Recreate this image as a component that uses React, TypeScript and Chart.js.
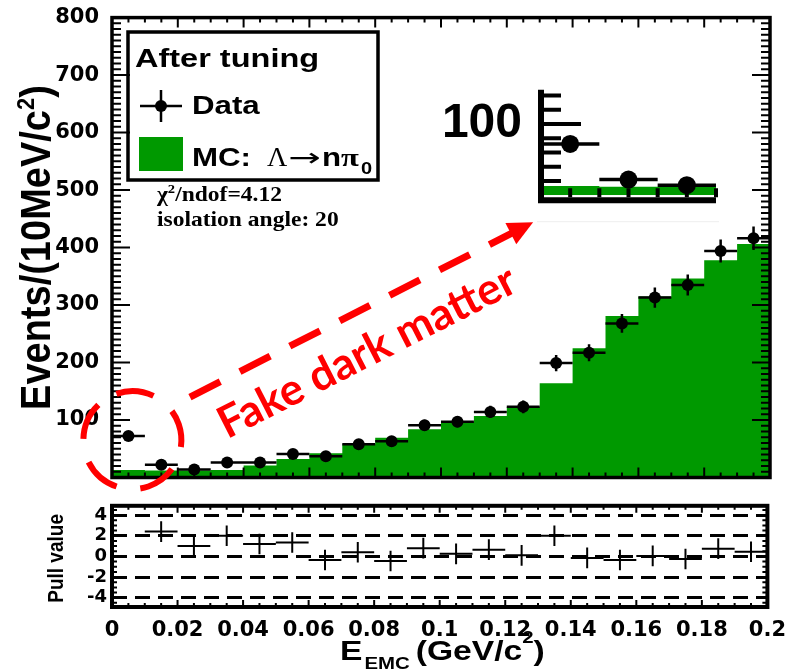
import React, { useEffect, useRef } from 'react';
import { Chart, registerables } from 'chart.js';

Chart.register(...registerables);

// ---------------- data ----------------
const binCenters = [0.005, 0.015, 0.025, 0.035, 0.045, 0.055, 0.065, 0.075, 0.085, 0.095, 0.105, 0.115, 0.125, 0.135, 0.145, 0.155, 0.165, 0.175, 0.185, 0.195];
const binHalfWidth = 0.005;
const mcCounts = [13, 12, 12, 13, 21, 32, 42, 58, 69, 84, 96, 107, 123, 164, 225, 281, 315, 346, 378, 406];
const dataCounts = [72, 22, 14, 26, 26, 41, 37, 58, 63, 91, 97, 114, 123, 199, 217, 268, 313, 335, 394, 416];
const dataErrors = [8.5, 4.7, 3.7, 5.1, 5.1, 6.4, 6.1, 7.6, 7.9, 9.5, 9.8, 10.7, 11.1, 14.1, 14.7, 16.4, 17.7, 18.3, 19.8, 20.4];
const pullCenters = [0.015, 0.025, 0.035, 0.045, 0.055, 0.065, 0.075, 0.085, 0.095, 0.105, 0.115, 0.125, 0.135, 0.145, 0.155, 0.165, 0.175, 0.185, 0.195];
const pullValues = [2.4, 1.0, 2.0, 1.2, 1.35, -0.35, 0.4, -0.45, 0.8, 0.25, 0.65, 0.1, 2.0, -0.15, -0.35, 0.05, -0.25, 0.75, 0.45];
const pullErrors = [1, 1, 1, 1, 1, 1, 1, 1, 1, 1, 1, 1, 1, 1, 1, 1, 1, 1, 1];
const mainYTicks = [100, 200, 300, 400, 500, 600, 700, 800];
const pullYTicks = [-4, -2, 0, 2, 4];
const xTickValues = [0, 0.02, 0.04, 0.06, 0.08, 0.1, 0.12, 0.14, 0.16, 0.18, 0.2];
const xTickLabels = ['0', '0.02', '0.04', '0.06', '0.08', '0.1', '0.12', '0.14', '0.16', '0.18', '0.2'];
const insetBinCount = 3;
const insetYTicks = [100];

// annotation anchors (data units of the main panel)
const ringCenter = { x: 0.0062, y: 65 };
const arrowFrom = { x: 0.0237, y: 140 };
const arrowTo = { x: 0.128, y: 444 };
const noteAnchor = { x: 0.0795, y: 196 };

const GREEN = '#009900';
const RED = '#ff0000';
const SANS = '"Liberation Sans", Arial, sans-serif';
const SERIF = '"Liberation Serif", "Times New Roman", serif';
const DJ = 'DejaVu Sans';

// histogram outline table (left bin edges + closing edge) for a stepped fill
function histPoints(n: number) {
  const pts = binCenters.slice(0, n).map((c, i) => ({ x: c - binHalfWidth, y: mcCounts[i] }));
  pts.push({ x: binCenters[n - 1] + binHalfWidth, y: mcCounts[n - 1] });
  return pts;
}

// ---------------- helpers ----------------
function txt(ctx: CanvasRenderingContext2D, s: string, x: number, y: number, font: string, sx = 1, color = '#000') {
  ctx.save();
  ctx.font = font;
  ctx.fillStyle = color;
  ctx.textAlign = 'left';
  ctx.textBaseline = 'alphabetic';
  ctx.translate(x, y);
  ctx.scale(sx, 1);
  ctx.fillText(s, 0, 0);
  const w = ctx.measureText(s).width * sx;
  ctx.restore();
  return w;
}

type TickCfg = { major: number; minor: number; majorLen: number; minorLen: number; a: boolean; b: boolean };

function inwardTicks(ctx: CanvasRenderingContext2D, chart: any, xc: TickCfg | null, yc: TickCfg | null, lw: number) {
  const { left, right, top, bottom } = chart.chartArea;
  const xs = chart.scales.x;
  const ys = chart.scales.y;
  ctx.save();
  ctx.strokeStyle = '#000';
  ctx.lineWidth = lw;
  ctx.beginPath();
  if (xc) {
    const i0 = Math.ceil(xs.min / xc.minor - 1e-9), i1 = Math.floor(xs.max / xc.minor + 1e-9);
    for (let i = i0; i <= i1; i++) {
      const v = i * xc.minor;
      const q = v / xc.major;
      const len = Math.abs(q - Math.round(q)) < 1e-6 ? xc.majorLen : xc.minorLen;
      const p = xs.getPixelForValue(v);
      if (xc.a) { ctx.moveTo(p, bottom); ctx.lineTo(p, bottom - len); }
      if (xc.b) { ctx.moveTo(p, top); ctx.lineTo(p, top + len); }
    }
  }
  if (yc) {
    const i0 = Math.ceil(ys.min / yc.minor - 1e-9), i1 = Math.floor(ys.max / yc.minor + 1e-9);
    for (let i = i0; i <= i1; i++) {
      const v = i * yc.minor;
      const q = v / yc.major;
      const len = Math.abs(q - Math.round(q)) < 1e-6 ? yc.majorLen : yc.minorLen;
      const p = ys.getPixelForValue(v);
      if (yc.a) { ctx.moveTo(left, p); ctx.lineTo(left + len, p); }
      if (yc.b) { ctx.moveTo(right, p); ctx.lineTo(right - len, p); }
    }
  }
  ctx.stroke();
  ctx.restore();
}

function frame(ctx: CanvasRenderingContext2D, chart: any, lw: number) {
  const { left, right, top, bottom } = chart.chartArea;
  ctx.save();
  ctx.strokeStyle = '#000';
  ctx.lineWidth = lw;
  ctx.strokeRect(left, top, right - left, bottom - top);
  ctx.restore();
}

function errorBars(ctx: CanvasRenderingContext2D, chart: any, xsArr: number[], ys: number[], errs: number[], lw: number) {
  const sx = chart.scales.x, sy = chart.scales.y;
  ctx.save();
  ctx.strokeStyle = '#000';
  ctx.lineWidth = lw;
  ctx.beginPath();
  xsArr.forEach((c, i) => {
    const px = sx.getPixelForValue(c);
    const py = sy.getPixelForValue(ys[i]);
    ctx.moveTo(sx.getPixelForValue(c - binHalfWidth), py);
    ctx.lineTo(sx.getPixelForValue(c + binHalfWidth), py);
    ctx.moveTo(px, sy.getPixelForValue(ys[i] - errs[i]));
    ctx.lineTo(px, sy.getPixelForValue(ys[i] + errs[i]));
  });
  ctx.stroke();
  ctx.restore();
}

// ---------------- plugins ----------------
const mainDecor = {
  id: 'mainDecor',
  afterDatasetsDraw(chart: any) {
    errorBars(chart.ctx, chart, binCenters, dataCounts, dataErrors, 2.5);
  },
  afterDraw(chart: any) {
    const ctx: CanvasRenderingContext2D = chart.ctx;
    const xs = chart.scales.x, ys = chart.scales.y;
    const { top, bottom } = chart.chartArea;
    inwardTicks(ctx, chart,
      { major: 0.02, minor: 0.005, majorLen: 10, minorLen: 5, a: true, b: true },
      { major: 100, minor: 10, majorLen: 18, minorLen: 9, a: true, b: true }, 2);
    frame(ctx, chart, 3.5);

    // legend box
    ctx.save();
    ctx.strokeStyle = '#000';
    ctx.lineWidth = 3.5;
    ctx.strokeRect(128, 32, 250, 148);
    ctx.restore();
    txt(ctx, 'After tuning', 135, 67, `bold 26px ${SANS}`, 1.25);
    ctx.save();
    ctx.strokeStyle = '#000';
    ctx.lineWidth = 2.5;
    ctx.beginPath();
    ctx.moveTo(140, 106); ctx.lineTo(182, 106);
    ctx.moveTo(161, 90); ctx.lineTo(161, 122);
    ctx.stroke();
    ctx.beginPath();
    ctx.arc(161, 106, 6, 0, Math.PI * 2);
    ctx.fillStyle = '#000';
    ctx.fill();
    ctx.fillStyle = GREEN;
    ctx.fillRect(139, 137, 44, 34);
    ctx.restore();
    txt(ctx, 'Data', 192, 114, `bold 25px ${SANS}`, 1.25);
    txt(ctx, 'MC:', 192, 166, `bold 25px ${SANS}`, 1.25);
    txt(ctx, 'Λ', 267, 166, `28px ${SERIF}`, 1.0);
    txt(ctx, '→', 288, 166, `25px ${DJ}`, 1.55);
    txt(ctx, 'n', 322, 166, `bold 25px ${SANS}`, 1.25);
    txt(ctx, 'π', 341, 166, `bold 26px ${SERIF}`, 1.25);
    txt(ctx, '0', 361, 174, `bold 16px ${SANS}`, 1.25);

    // chi2 text
    let x = 157;
    x += txt(ctx, 'χ', x, 201, `bold 21px ${SERIF}`, 1.12);
    x += txt(ctx, '2', x, 193, `bold 13px ${SERIF}`, 1.12);
    txt(ctx, '/ndof=4.12', x, 201, `bold 21px ${SERIF}`, 1.12);
    txt(ctx, 'isolation angle: 20', 157, 226, `bold 21px ${SERIF}`, 1.12);

    // y title
    ctx.save();
    ctx.fillStyle = '#000';
    ctx.translate(50, (top + bottom) / 2);
    ctx.scale(1.1, 1);
    ctx.rotate(-Math.PI / 2);
    const fBig = `bold 38px ${SANS}`, fSup = `bold 22px ${SANS}`;
    ctx.font = fBig; const wa = ctx.measureText('Events/(10MeV/c').width; const wc = ctx.measureText(')').width;
    ctx.font = fSup; const wb = ctx.measureText('2').width;
    const x0 = -(wa + wb + wc) / 2;
    ctx.font = fBig; ctx.fillText('Events/(10MeV/c', x0, 0);
    ctx.font = fSup; ctx.fillText('2', x0 + wa, -15);
    ctx.font = fBig; ctx.fillText(')', x0 + wa + wb, 0);
    ctx.restore();

    // red annotations
    ctx.save();
    ctx.strokeStyle = RED;
    ctx.fillStyle = RED;
    const cx = xs.getPixelForValue(ringCenter.x), cy = ys.getPixelForValue(ringCenter.y);
    ctx.lineWidth = 6;
    ctx.setLineDash([38, 24]);
    ctx.beginPath();
    const a0 = (-109 * Math.PI) / 180;
    ctx.arc(cx, cy, 49, a0, a0 + Math.PI * 2);
    ctx.stroke();

    const x1 = xs.getPixelForValue(arrowFrom.x), y1 = ys.getPixelForValue(arrowFrom.y);
    const x2 = xs.getPixelForValue(arrowTo.x), y2 = ys.getPixelForValue(arrowTo.y);
    const dx = x2 - x1, dy = y2 - y1, L = Math.hypot(dx, dy);
    const ux = dx / L, uy = dy / L;
    const headLen = 25, headHalf = 12;
    ctx.lineWidth = 7;
    ctx.setLineDash([34, 22]);
    ctx.beginPath();
    ctx.moveTo(x1, y1);
    ctx.lineTo(x2 - ux * headLen * 0.8, y2 - uy * headLen * 0.8);
    ctx.stroke();
    ctx.setLineDash([]);
    ctx.beginPath();
    ctx.moveTo(x2, y2);
    ctx.lineTo(x2 - ux * headLen - uy * headHalf, y2 - uy * headLen + ux * headHalf);
    ctx.lineTo(x2 - ux * headLen + uy * headHalf, y2 - uy * headLen - ux * headHalf);
    ctx.closePath();
    ctx.fill();

    ctx.translate(xs.getPixelForValue(noteAnchor.x), ys.getPixelForValue(noteAnchor.y));
    ctx.rotate(Math.atan2(dy, dx));
    ctx.font = 'bold 44px Lato, "Open Sans", sans-serif';
    ctx.textAlign = 'center';
    ctx.textBaseline = 'alphabetic';
    ctx.fillText('Fake dark matter', 0, 0);
    ctx.restore();
  },
};

const pullDecor = {
  id: 'pullDecor',
  afterDraw(chart: any) {
    const ctx: CanvasRenderingContext2D = chart.ctx;
    const { top, bottom } = chart.chartArea;
    errorBars(ctx, chart, pullCenters, pullValues, pullErrors, 2);
    inwardTicks(ctx, chart,
      { major: 0.02, minor: 0.005, majorLen: 7, minorLen: 4, a: true, b: true },
      { major: 2, minor: 0.5, majorLen: 10, minorLen: 5, a: true, b: true }, 2);
    frame(ctx, chart, 4);

    // y title
    ctx.save();
    ctx.fillStyle = '#000';
    ctx.translate(63, (top + bottom) / 2 + 2);
    ctx.scale(1.2, 1);
    ctx.rotate(-Math.PI / 2);
    ctx.font = `bold 19px ${SANS}`;
    ctx.textAlign = 'center';
    ctx.fillText('Pull value', 0, 0);
    ctx.restore();

    // x title
    let x = 340;
    x += txt(ctx, 'E', x, 170, `bold 28px ${SANS}`, 1.2);
    x += 2;
    x += txt(ctx, 'EMC', x, 179, `bold 17px ${SANS}`, 1.2);
    x += 6;
    x += txt(ctx, '(GeV/c', x, 170, `bold 28px ${SANS}`, 1.2);
    x += txt(ctx, '2', x, 153, `bold 17px ${SANS}`, 1.2);
    txt(ctx, ')', x, 170, `bold 28px ${SANS}`, 1.2);
  },
};

const insetDecor = {
  id: 'insetDecor',
  beforeDraw(chart: any) {
    const ctx: CanvasRenderingContext2D = chart.ctx;
    const { left, right, top, bottom } = chart.chartArea;
    ctx.save();
    ctx.fillStyle = '#fff';
    ctx.fillRect(left - 4, top - 5, right - left + 7, bottom - top + 32);
    ctx.fillStyle = '#eeeeee';
    ctx.fillRect(left - 4, bottom + 26, right - left + 7, 1);
    ctx.restore();
  },
  afterDatasetsDraw(chart: any) {
    errorBars(chart.ctx, chart, binCenters.slice(0, insetBinCount), dataCounts.slice(0, insetBinCount), dataErrors.slice(0, insetBinCount), 3.5);
  },
  afterDraw(chart: any) {
    const ctx: CanvasRenderingContext2D = chart.ctx;
    const { left, right, top, bottom } = chart.chartArea;
    const xs = chart.scales.x, ys = chart.scales.y;
    ctx.save();
    ctx.strokeStyle = '#000';
    ctx.lineWidth = 4;
    ctx.beginPath();
    for (let i = 1; i <= 7; i++) {
      const v = i * 20;
      const p = ys.getPixelForValue(v);
      const len = v % 100 === 0 ? 40 : 20;
      ctx.moveTo(left, p); ctx.lineTo(left + len, p);
    }
    for (let i = 0; i <= 6; i++) {
      const p = xs.getPixelForValue(i * 0.005);
      ctx.moveTo(p, bottom + 2); ctx.lineTo(p, bottom - 7);
    }
    ctx.stroke();
    ctx.lineWidth = 6;
    ctx.beginPath();
    ctx.moveTo(left, top);
    ctx.lineTo(left, bottom + 5);
    ctx.lineTo(right, bottom + 5);
    ctx.stroke();
    ctx.restore();
  },
};

// ---------------- component ----------------
export default function App() {
  const mainRef = useRef<HTMLCanvasElement>(null);
  const pullRef = useRef<HTMLCanvasElement>(null);
  const insetRef = useRef<HTMLCanvasElement>(null);

  useEffect(() => {
    const charts: Chart[] = [];
    const tickFont = (size: number) => ({ family: DJ, weight: 'bold' as const, size });
    const histDataset = (n: number) => ({
      type: 'line',
      label: 'MC',
      data: histPoints(n),
      stepped: true,
      fill: 'origin',
      backgroundColor: GREEN,
      borderColor: 'rgba(0,0,0,0)',
      borderWidth: 0,
      pointRadius: 0,
      order: 2,
    } as any);

    charts.push(new Chart(mainRef.current as HTMLCanvasElement, {
      type: 'scatter',
      data: {
        datasets: [
          {
            type: 'scatter',
            label: 'Data',
            data: binCenters.map((x, i) => ({ x, y: dataCounts[i] })),
            pointRadius: 6,
            pointBackgroundColor: '#000',
            pointBorderWidth: 0,
            showLine: false,
            order: 1,
          } as any,
          histDataset(binCenters.length),
        ],
      },
      options: {
        animation: false,
        responsive: false,
        events: [],
        layout: { padding: { left: 0, right: 19, top: 17.5, bottom: 22.5 } },
        plugins: { legend: { display: false }, tooltip: { enabled: false }, title: { display: false } },
        scales: {
          x: { type: 'linear', min: 0, max: 0.2, display: false, offset: false } as any,
          y: {
            type: 'linear', min: 0, max: 800,
            afterFit: (s: any) => { s.width = 112; },
            afterBuildTicks: (s: any) => { s.ticks = mainYTicks.map((v) => ({ value: v })); },
            grid: { display: false },
            border: { display: false },
            ticks: { font: tickFont(21), color: '#000', padding: 5 },
          } as any,
        },
      },
      plugins: [mainDecor],
    }));

    charts.push(new Chart(pullRef.current as HTMLCanvasElement, {
      type: 'scatter',
      data: {
        datasets: [{
          label: 'Pull',
          data: pullCenters.map((x, i) => ({ x, y: pullValues[i] })),
          pointRadius: 0,
          showLine: false,
        }],
      },
      options: {
        animation: false,
        responsive: false,
        events: [],
        layout: { padding: { left: 0, right: 19, top: 5, bottom: 0 } },
        plugins: { legend: { display: false }, tooltip: { enabled: false } },
        scales: {
          x: {
            type: 'linear', min: 0, max: 0.2,
            afterFit: (s: any) => { s.height = 63; },
            afterBuildTicks: (s: any) => { s.ticks = xTickValues.map((v) => ({ value: v })); },
            grid: { display: false },
            border: { display: false },
            ticks: {
              font: tickFont(21), color: '#000', padding: 3, autoSkip: false, maxRotation: 0,
              callback: (_v: any, i: number) => xTickLabels[i],
            },
          } as any,
          y: {
            type: 'linear', min: -4.9, max: 4.9,
            afterFit: (s: any) => { s.width = 112; },
            afterBuildTicks: (s: any) => { s.ticks = pullYTicks.map((v) => ({ value: v })); },
            grid: { display: true, color: '#000', lineWidth: 3, drawTicks: false },
            border: { display: false, dash: [15, 8] },
            ticks: { font: tickFont(18), color: '#000', padding: 5 },
          } as any,
        },
      },
      plugins: [pullDecor],
    }));

    charts.push(new Chart(insetRef.current as HTMLCanvasElement, {
      type: 'scatter',
      data: {
        datasets: [
          {
            type: 'scatter',
            data: binCenters.slice(0, insetBinCount).map((x, i) => ({ x, y: dataCounts[i] })),
            pointRadius: 9,
            pointBackgroundColor: '#000',
            pointBorderWidth: 0,
            showLine: false,
            order: 1,
          } as any,
          histDataset(insetBinCount),
        ],
      },
      options: {
        animation: false,
        responsive: false,
        events: [],
        layout: { padding: { left: 0, right: 6, top: 5, bottom: 30 } },
        plugins: { legend: { display: false }, tooltip: { enabled: false } },
        scales: {
          x: { type: 'linear', min: 0, max: 0.03, display: false, offset: false } as any,
          y: {
            type: 'linear', min: 0, max: 148,
            afterFit: (s: any) => { s.width = 101; },
            afterBuildTicks: (s: any) => { s.ticks = insetYTicks.map((v) => ({ value: v })); },
            grid: { display: false },
            border: { display: false },
            ticks: { font: { family: SANS, weight: 'bold', size: 48 }, color: '#000', padding: 11 },
          } as any,
        },
      },
      plugins: [insetDecor],
    }));

    return () => charts.forEach((c) => c.destroy());
  }, []);

  return (
    <div style={{ position: 'fixed', left: 0, top: 0, width: 789, height: 670, background: '#fff', overflow: 'hidden' }}>
      <canvas ref={mainRef} width={789} height={500} style={{ position: 'absolute', left: 0, top: 0, width: 789, height: 500 }} />
      <canvas ref={pullRef} width={789} height={180} style={{ position: 'absolute', left: 0, top: 490, width: 789, height: 180 }} />
      <canvas ref={insetRef} width={285} height={185} style={{ position: 'absolute', left: 440, top: 50, width: 285, height: 185 }} />
    </div>
  );
}
